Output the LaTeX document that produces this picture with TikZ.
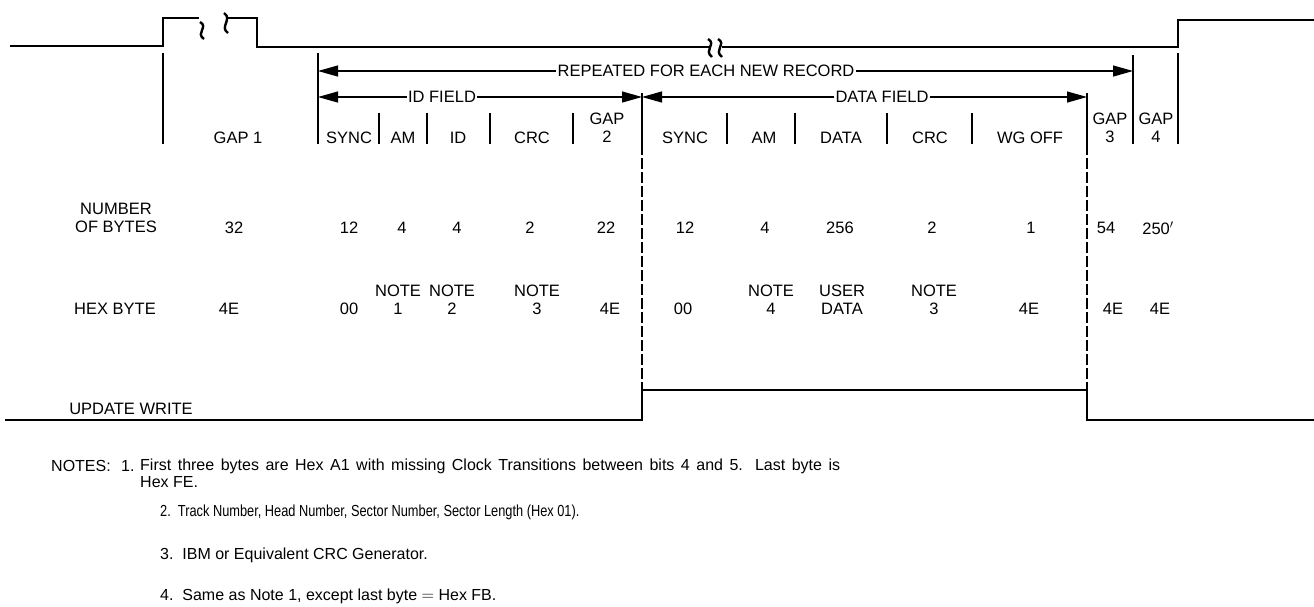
\documentclass[tikz,border=0pt]{standalone}
\usepackage{fontspec}
\setmainfont{Liberation Sans}
\usepackage{graphicx}
\usepackage{tikz}
\usetikzlibrary{arrows.meta,positioning,calc}
\tikzset{
  sig/.style={line width=2.8pt},
  bar/.style={line width=1.4pt},
  dbar/.style={line width=1.4pt,dash pattern=on 11pt off 3pt},
  brk/.style={line width=2.4pt},
  fld/.style={line width=1.2pt,-{Triangle[length=20pt,width=11pt]}},
  lbl/.style={font=\fontsize{16.5}{18}\selectfont,inner sep=1pt,align=center},
  note/.style={font=\fontsize{16}{17}\selectfont,anchor=west,inner sep=0pt},
}
\begin{document}
\begin{tikzpicture}[x=1pt,y=-1pt]
  \useasboundingbox (0,0) rectangle (1314,606);

  % top line (write gate)
  \draw[sig] (10,46) -- (163,46) -- (163,18) -- (199,18);
  \draw[brk] (200,22) .. controls (209,27) and (195,33) .. (204,39);
  \draw[brk] (224,13) .. controls (233,19) and (219,27) .. (228,33);
  \draw[sig] (227,18) -- (257,18) -- (257,47) -- (709,47);
  \draw[brk] (708,39) .. controls (717,44) and (703,50) .. (712,57);
  \draw[brk] (718,39) .. controls (727,44) and (713,50) .. (722,57);
  \draw[sig] (722,47) -- (1178,47) -- (1178,20) -- (1314,20);

  % field bars
  \coordinate (g1) at (163,53);
  \coordinate (rs) at (318,53);
  \coordinate (re) at (1133,55);
  \coordinate (g4) at (1178,53);
  \coordinate (idf) at (642,93);
  \coordinate (dtf) at (1087,93);
  \draw[bar] (g1) -- (163,144);
  \draw[bar] (rs) -- (318,144);
  \draw[bar] (re) -- (1133,144);
  \draw[bar] (g4) -- (1178,144);
  \draw[bar] (idf) -- (642,144);
  \draw[bar] (dtf) -- (1087,144);
  \foreach \x in {379,427,490,573,727,795,887,972}
    \draw[bar] (\x,113) -- (\x,144);
  \draw[dbar] (642,144) -- (642,390);
  \draw[dbar] (1087,144) -- (1087,390);

  % arrows
  \node[lbl] (rep) at (706,71) {REPEATED FOR EACH NEW RECORD};
  \node[lbl] (idl) at (442,97) {ID FIELD};
  \node[lbl] (dtl) at (882,97) {DATA FIELD};
  \draw[fld] (rep.west) -- (318,71);
  \draw[fld] (rep.east) -- (1133,71);
  \draw[fld] (idl.west) -- (318,97);
  \draw[fld] (idl.east) -- (642,97);
  \draw[fld] (dtl.west) -- (642,97);
  \draw[fld] (dtl.east) -- (1087,97);

  % field names
  \node[lbl] (n1) at (238,138) {GAP 1};
  \node[lbl] (n2) at (349,138) {SYNC};
  \node[lbl] (n3) at (403,138) {AM};
  \node[lbl] (n4) at (458,138) {ID};
  \node[lbl] (n5) at (532,138) {CRC};
  \node[lbl] (n6) at (607,128) {GAP\\2};
  \node[lbl] (n7) at (685,138) {SYNC};
  \node[lbl] (n8) at (764,138) {AM};
  \node[lbl] (n9) at (841,138) {DATA};
  \node[lbl] (n10) at (930,138) {CRC};
  \node[lbl] (n11) at (1030,138) {WG OFF};
  \node[lbl] (n12) at (1110,128) {GAP\\3};
  \node[lbl] (n13) at (1156,128) {GAP\\4};

  % number of bytes
  \node[lbl] (nb) at (116,218) {NUMBER\\OF BYTES};
  \node[lbl] (b1) at (234,228) {32};
  \node[lbl] (b2) at (349,228) {12};
  \node[lbl] (b3) at (402,228) {4};
  \node[lbl] (b4) at (457,228) {4};
  \node[lbl] (b5) at (530,228) {2};
  \node[lbl] (b6) at (606,228) {22};
  \node[lbl] (b7) at (685,228) {12};
  \node[lbl] (b8) at (765,228) {4};
  \node[lbl] (b9) at (840,228) {256};
  \node[lbl] (b10) at (932,228) {2};
  \node[lbl] (b11) at (1031,228) {1};
  \node[lbl] (b12) at (1106,228) {54};
  \node[lbl] (b13) at (1158,228) {250$'$};

  % hex byte
  \node[lbl] (hb) at (115,309) {HEX BYTE};
  \node[lbl] (h1) at (229,309) {4E};
  \node[lbl] (h2) at (349,309) {00};
  \node[lbl] (h3) at (398,300) {NOTE\\1};
  \node[lbl] (h4) at (452,300) {NOTE\\2};
  \node[lbl] (h5) at (537,300) {NOTE\\3};
  \node[lbl] (h6) at (610,309) {4E};
  \node[lbl] (h7) at (683,309) {00};
  \node[lbl] (h8) at (771,300) {NOTE\\4};
  \node[lbl] (h9) at (842,300) {USER\\DATA};
  \node[lbl] (h10) at (934,300) {NOTE\\3};
  \node[lbl] (h11) at (1029,309) {4E};
  \node[lbl] (h12) at (1113,309) {4E};
  \node[lbl] (h13) at (1160,309) {4E};

  % update write
  \node[lbl] (uw) at (131,409) {UPDATE WRITE};
  \draw[sig] (5,420) -- (642,420) -- (642,390) -- (1087,390) -- (1087,420) -- (1314,420);

  % notes
  \node[note] (nt) at (51,466) {NOTES:};
  \node[note] (nt1) at (121,466) {1.};
  \node[note] (nt1a) at (140,466) {\makebox[700pt][s]{First three bytes are Hex A1 with missing Clock Transitions between bits 4 and 5. Last byte is}};
  \node[note] (nt1b) at (140,482) {Hex FE.};
  \node[note] (nt2) at (160,512) {\scalebox{0.8}[1]{2.\ \ Track Number, Head Number, Sector Number, Sector Length (Hex 01).}};
  \node[note] (nt3) at (160,555) {3.\ \ IBM or Equivalent CRC Generator.};
  \node[note] (nt4) at (160,596) {4.\ \ Same as Note 1, except last byte $=$ Hex FB.};
\end{tikzpicture}
\end{document}
